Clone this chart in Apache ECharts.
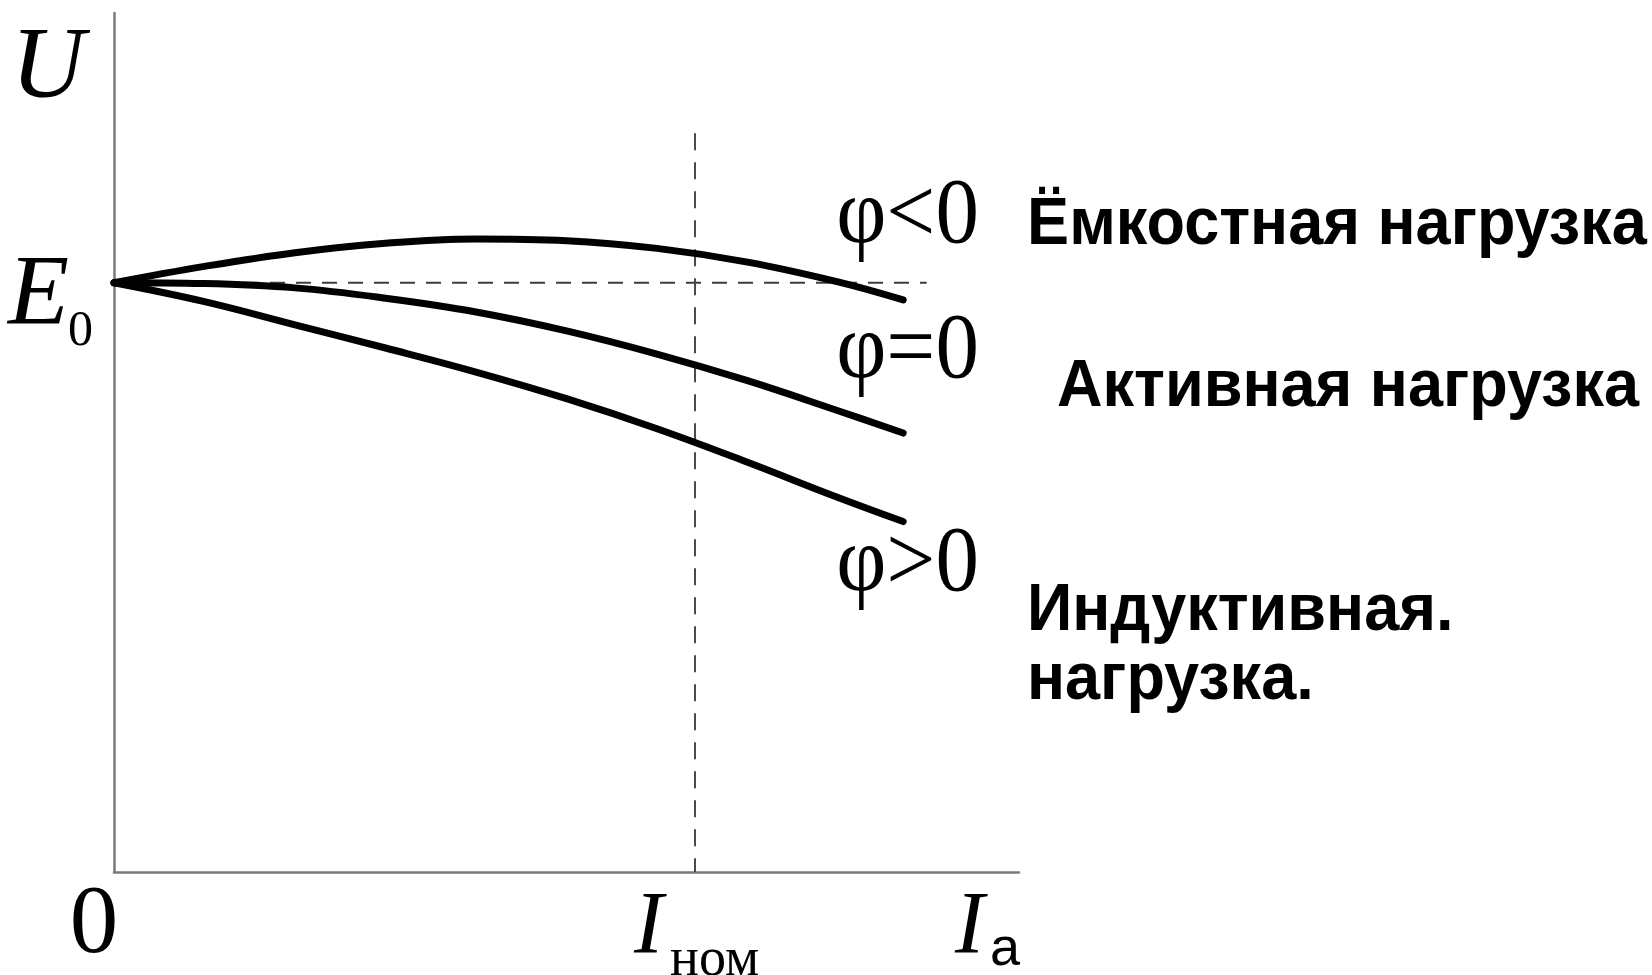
<!DOCTYPE html>
<html>
<head>
<meta charset="utf-8">
<title>Внешние характеристики генератора</title>
<script src="https://cdn.jsdelivr.net/npm/echarts@6.0.0/dist/echarts.min.js"></script>
<style>
  html, body { margin: 0; padding: 0; background: #ffffff; }
  #chart { width: 1652px; height: 975px; }
</style>
</head>
<body>
<div id="chart"></div>
<script>
// Load current I_a and terminal voltage U, both in per cent of the axis range.
const E0 = 68.6;          // no-load EMF
const I_NOM = 64.2;       // rated current
const I_END = 87.2;       // last plotted current

// Current values shared by the three curves
const loadCurrent = [0, 10, 20, 30, 40, 50, 60, 70, 80, 87.2];

// φ < 0 — capacitive load
const capacitiveU = [68.6, 70.5, 72.1, 73.2, 73.7, 73.5, 72.6, 71.0, 68.7, 66.6];

// φ = 0 — active load
const activeU = [68.6, 68.5, 68.0, 66.8, 65.2, 63.0, 60.3, 57.2, 53.7, 51.1];

// φ > 0 — inductive load
const inductiveU = [68.6, 66.4, 63.7, 61.0, 58.2, 55.1, 51.6, 47.7, 43.6, 40.8];

// Guide lines
const e0LineEnd = 89.8;
const iNomLineTop = 86.0;

// Text
const curveLabels = ['φ<0', 'φ=0', 'φ>0'];
const loadNames = ['Ёмкостная нагрузка', 'Активная нагрузка', 'Индуктивная.', 'нагрузка.'];
const axisNameU = 'U';
const axisNameI = ['I', 'a'];
const tickE0 = ['E', '0'];
const tickINom = ['I', 'ном'];
const tickZero = '0';

const zip = (xs, ys) => xs.map((x, i) => [x, ys[i]]);

const chart = echarts.init(document.getElementById('chart'), null, { renderer: 'canvas' });

const curveStyle = { color: '#000000', width: 7, cap: 'round', join: 'round' };

chart.setOption({
  animation: false,
  backgroundColor: '#ffffff',
  grid: { left: 114, top: 13, right: 633, bottom: 103, containLabel: false },
  xAxis: {
    type: 'value', min: 0, max: 100,
    axisLine: { show: true, lineStyle: { color: '#7a7a7a', width: 2.5 } },
    axisTick: { show: false }, axisLabel: { show: false }, splitLine: { show: false }
  },
  yAxis: {
    type: 'value', min: 0, max: 100,
    axisLine: { show: true, lineStyle: { color: '#7a7a7a', width: 2.5 } },
    axisTick: { show: false }, axisLabel: { show: false }, splitLine: { show: false }
  },
  series: [
    {
      name: 'E0', type: 'line', symbol: 'none', silent: true,
      data: [[0, E0], [e0LineEnd, E0]],
      lineStyle: { color: '#3c3c3c', width: 2, type: [15, 11] }
    },
    {
      name: 'Iном', type: 'line', symbol: 'none', silent: true,
      data: [[I_NOM, iNomLineTop], [I_NOM, 0]],
      lineStyle: { color: '#4a4a4a', width: 2, type: [17, 12] }
    },
    {
      name: curveLabels[0], type: 'line', symbol: 'none', smooth: 0.4,
      data: zip(loadCurrent, capacitiveU), lineStyle: curveStyle
    },
    {
      name: curveLabels[1], type: 'line', symbol: 'none', smooth: 0.4,
      data: zip(loadCurrent, activeU), lineStyle: curveStyle
    },
    {
      name: curveLabels[2], type: 'line', symbol: 'none', smooth: 0.4,
      data: zip(loadCurrent, inductiveU), lineStyle: curveStyle
    }
  ]
});

// Pixel anchors taken from the axes
const px = (x, y) => chart.convertToPixel({ gridIndex: 0 }, [x, y]);
const origin = px(0, 0);
const e0Px = px(0, E0);
const iNomPx = px(I_NOM, 0);
const axisEnd = px(100, 100);
const curveEndX = px(I_END, 0)[0];

const SERIF = '"Liberation Serif", "DejaVu Serif", serif';
const SANS = '"Liberation Sans", Arial, sans-serif';

// text placed by its left/centre x and alphabetic baseline
function label(text, x, baseline, size, family, opts) {
  opts = opts || {};
  const font = (opts.italic ? 'italic ' : '') + (opts.bold ? 'bold ' : '') + size + 'px ' + family;
  const align = opts.align || 'left';
  const sy = opts.scaleY || 1;
  return {
    type: 'text', silent: true,
    x: x, y: baseline - 0.26 * size * sy,
    scaleX: opts.scaleX || 1,
    scaleY: sy,
    style: {
      text: text, font: font, fill: '#000000',
      align: align, verticalAlign: 'middle',
      textAlign: align, textVerticalAlign: 'middle'
    }
  };
}

const g = [];
// axis names
g.push(label(axisNameU, origin[0] - 103, 97, 102, SERIF, { italic: true }));
g.push(label(axisNameI[0], axisEnd[0] - 64, origin[1] + 80, 88, SERIF, { italic: true }));
g.push(label(axisNameI[1], axisEnd[0] - 29, origin[1] + 92, 54, SANS));
// tick labels
g.push(label(tickE0[0], e0Px[0] - 106, e0Px[1] + 40, 100, SERIF, { italic: true }));
g.push(label(tickE0[1], e0Px[0] - 46, e0Px[1] + 62, 50, SERIF));
g.push(label(tickZero, origin[0] - 20, origin[1] + 80, 97, SERIF, { align: 'center' }));
g.push(label(tickINom[0], iNomPx[0] - 61, iNomPx[1] + 80, 88, SERIF, { italic: true }));
g.push(label(tickINom[1], iNomPx[0] - 25, iNomPx[1] + 103, 54, SERIF));
// curve labels
const phiX = curveEndX - 67;
const phiOpts = { scaleY: 1.07 };
g.push(label(curveLabels[0], phiX, 242, 87, SERIF, phiOpts));
g.push(label(curveLabels[1], phiX, 377, 87, SERIF, phiOpts));
g.push(label(curveLabels[2], phiX, 590, 87, SERIF, phiOpts));
// load names
const bold = { bold: true, scaleX: 0.955 };
g.push(label(loadNames[0], 1027, 243, 66, SANS, bold));
g.push(label(loadNames[1], 1057, 405, 66, SANS, bold));
g.push(label(loadNames[2], 1027, 629, 66, SANS, bold));
g.push(label(loadNames[3], 1027, 698, 66, SANS, bold));

chart.setOption({ graphic: { elements: g } });
</script>
</body>
</html>
